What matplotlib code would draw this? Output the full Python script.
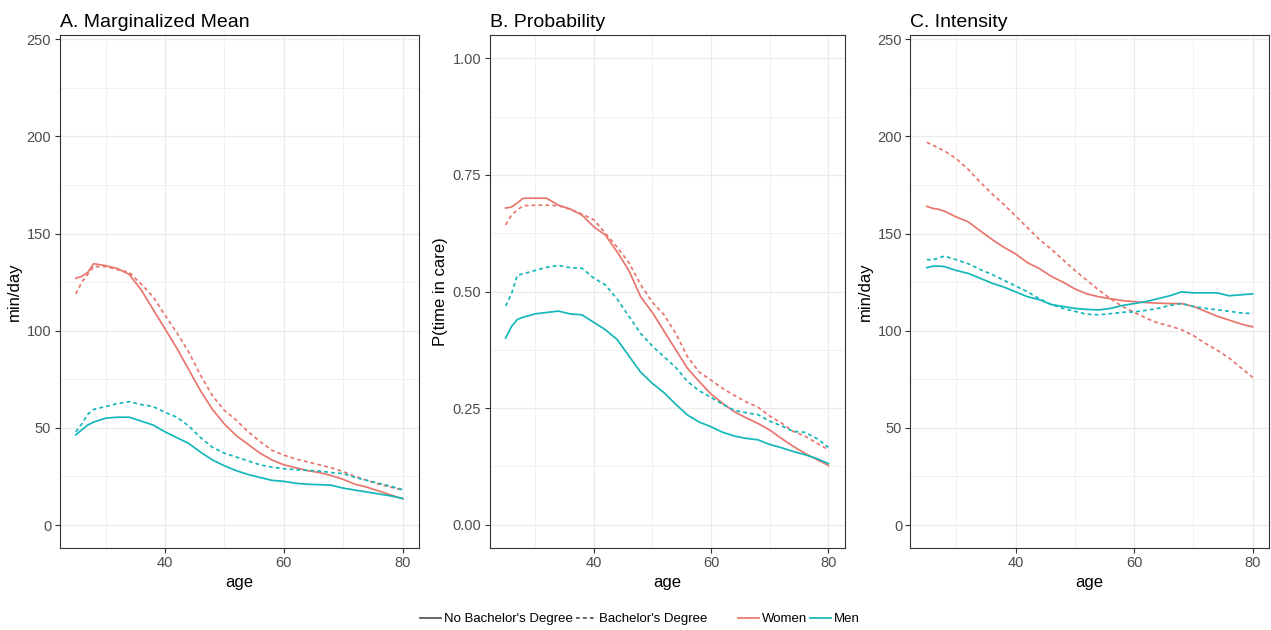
import numpy as np
import matplotlib
matplotlib.use("Agg")
import matplotlib.pyplot as plt
from matplotlib.lines import Line2D
from matplotlib.ticker import FixedLocator, FormatStrFormatter

# ---- data ----
age = [25, 26, 27, 28, 30, 32, 34, 36, 38, 40, 42, 44, 46, 48, 50,
       52, 54, 56, 58, 60, 62, 64, 66, 68, 70, 72, 74, 76, 78, 80]

# A. marginalized mean (min/day)
mean_women_nobach = [127, 128, 130, 134.5, 133.5, 132, 129, 121, 111, 101, 91, 80, 69, 59.5, 52,
                     46, 41.5, 37, 33.5, 31, 29.5, 28, 27, 25.5, 23.5, 21, 19.5, 17.5, 15.5, 13.5]
mean_women_bach = [119, 125, 129, 133, 133, 131.5, 130, 124, 117.5, 108, 99, 89, 77, 66.5, 59,
                   54, 48, 43, 38.5, 36, 34, 32.5, 31, 29.5, 27.5, 25, 23, 21, 19.5, 18]
mean_men_nobach = [46.5, 49, 51.5, 53, 55, 55.5, 55.5, 53.5, 51.5, 48, 45, 42, 37.5, 33.5, 30.5,
                   28, 26, 24.5, 23, 22.5, 21.5, 21, 20.8, 20.5, 19, 18, 17, 16, 15, 13.7]
mean_men_bach = [48, 52, 57, 59.5, 61, 62.5, 63.5, 62, 61, 58, 55.5, 51, 45, 40, 37,
                 35, 33, 31, 29.8, 29, 28.5, 28.2, 27.8, 27, 26.5, 24.5, 23, 21.5, 20, 18.2]

# B. probability of any time in care
prob_women_nobach = [0.679, 0.681, 0.690, 0.700, 0.700, 0.700, 0.685, 0.677, 0.664, 0.639, 0.621,
                     0.585, 0.545, 0.489, 0.455, 0.415, 0.375, 0.335, 0.307, 0.280, 0.260, 0.242,
                     0.229, 0.217, 0.203, 0.185, 0.168, 0.153, 0.140, 0.127]
prob_women_bach = [0.643, 0.664, 0.675, 0.684, 0.685, 0.685, 0.684, 0.676, 0.666, 0.654, 0.625,
                   0.595, 0.562, 0.515, 0.477, 0.450, 0.410, 0.360, 0.327, 0.310, 0.292, 0.277,
                   0.263, 0.252, 0.233, 0.218, 0.200, 0.190, 0.175, 0.161]
prob_men_nobach = [0.400, 0.425, 0.440, 0.445, 0.452, 0.455, 0.458, 0.452, 0.450, 0.434, 0.418,
                   0.397, 0.362, 0.327, 0.303, 0.283, 0.258, 0.235, 0.220, 0.210, 0.198, 0.190,
                   0.185, 0.182, 0.172, 0.165, 0.157, 0.150, 0.142, 0.131]
prob_men_bach = [0.469, 0.495, 0.535, 0.538, 0.545, 0.552, 0.556, 0.551, 0.550, 0.529, 0.514,
                 0.484, 0.447, 0.410, 0.383, 0.360, 0.337, 0.307, 0.287, 0.273, 0.258, 0.245,
                 0.240, 0.236, 0.222, 0.212, 0.200, 0.198, 0.185, 0.166]

# C. intensity (min/day among carers)
int_women_nobach = [164, 163, 162.5, 161.5, 158.5, 156, 151.5, 147, 143, 139.5, 135, 132, 128, 125, 121.5,
                    119, 117.5, 116.5, 115.5, 115, 114.5, 114.2, 114, 114, 112.5, 110, 107.5, 105.5, 103.5, 102]
int_women_bach = [197, 195.5, 194, 192.5, 188.5, 183, 176.5, 170.5, 165, 159, 153, 147, 142, 136.5, 131,
                  126, 121, 116.5, 112.5, 109.5, 106.5, 104, 102.5, 100.5, 97.5, 93.5, 90, 86, 81, 76]
int_men_nobach = [132.5, 133.2, 133.3, 133, 131, 129.5, 127, 124.5, 122.5, 120, 117.5, 116, 113.5, 112.5, 111.5,
                  111, 110.7, 111.5, 113, 114, 115, 116.5, 118, 120, 119.5, 119.5, 119.5, 118, 118.5, 119]
int_men_bach = [136.7, 136.4, 137.5, 138.4, 136.5, 134.5, 131.5, 129, 126, 123, 120, 116.5, 113.5, 111.5, 110,
                108.5, 108.2, 108.8, 109.5, 109.7, 110.5, 111.5, 113, 114, 112.5, 111.5, 110.8, 110, 109.2, 108.8]

# ---- style ----
WOMEN = "#E8766D"
MEN = "#14B7BA"
GRID = "#EBEBEB"
BORDER = "#333333"
LW = 1.25
DASH = (0, (2.2, 1.8))

plt.rcParams['font.family'] = ['Liberation Sans', 'DejaVu Sans']

fig = plt.figure(figsize=(12.71, 6.30), dpi=100)
W, H = 1271.0, 630.0
bottom = (H - 548) / H
height = (548 - 35) / H
ax_a = fig.add_axes([59.5 / W, bottom, 359.5 / W, height])
ax_b = fig.add_axes([489.5 / W, bottom, 355 / W, height])
ax_c = fig.add_axes([910.5 / W, bottom, 358.5 / W, height])


def style_axis(ax, ylim, ymajor, yminor, title, ylabel, fmt=None):
    ax.set_xlim(22.25, 82.75)
    ax.set_ylim(*ylim)
    ax.xaxis.set_major_locator(FixedLocator([40, 60, 80]))
    ax.xaxis.set_minor_locator(FixedLocator([30, 50, 70]))
    ax.yaxis.set_major_locator(FixedLocator(ymajor))
    ax.yaxis.set_minor_locator(FixedLocator(yminor))
    if fmt:
        ax.yaxis.set_major_formatter(FormatStrFormatter(fmt))
    ax.grid(which='major', color=GRID, lw=0.9, zorder=0)
    ax.grid(which='minor', color=GRID, lw=0.5, zorder=0)
    ax.set_axisbelow(True)
    for s in ax.spines.values():
        s.set_color(BORDER)
        s.set_linewidth(0.8)
    ax.tick_params(which='major', length=3.5, width=0.8, color=BORDER,
                   labelcolor='#4D4D4D', labelsize=10.5, pad=2.5)
    ax.tick_params(which='minor', length=0)
    ax.set_title(title, loc='left', fontsize=14, pad=6)
    ax.set_xlabel('age', fontsize=12, labelpad=3)
    if ylabel:
        ax.set_ylabel(ylabel, fontsize=12, labelpad=3)


def draw(ax, wn, wb, mn, mb):
    ax.plot(age, wn, color=WOMEN, lw=LW)
    ax.plot(age, wb, color=WOMEN, lw=LW, ls=DASH)
    ax.plot(age, mn, color=MEN, lw=LW)
    ax.plot(age, mb, color=MEN, lw=LW, ls=DASH)


draw(ax_a, mean_women_nobach, mean_women_bach, mean_men_nobach, mean_men_bach)
draw(ax_b, prob_women_nobach, prob_women_bach, prob_men_nobach, prob_men_bach)
draw(ax_c, int_women_nobach, int_women_bach, int_men_nobach, int_men_bach)

min_major = [0, 50, 100, 150, 200, 250]
min_minor = [25, 75, 125, 175, 225]
style_axis(ax_a, (-11.8, 252.2), min_major, min_minor, 'A. Marginalized Mean', 'min/day')
style_axis(ax_b, (-0.05, 1.05), [0, 0.25, 0.5, 0.75, 1.0], [0.125, 0.375, 0.625, 0.875],
           'B. Probability', 'P(time in care)', fmt='%.2f')
style_axis(ax_c, (-11.8, 252.2), min_major, min_minor, 'C. Intensity', 'min/day')

# ---- legends ----
lt_handles = [Line2D([], [], color='#555555', lw=LW),
              Line2D([], [], color='#555555', lw=LW, ls=DASH)]
fig.legend(lt_handles, ["No Bachelor's Degree", "Bachelor's Degree"],
           loc='center', bbox_to_anchor=(564 / W, 1 - 619 / H), ncol=2,
           frameon=False, fontsize=9.5, handlelength=1.6, handletextpad=0.2,
           columnspacing=0.2)
col_handles = [Line2D([], [], color=WOMEN, lw=LW), Line2D([], [], color=MEN, lw=LW)]
fig.legend(col_handles, ['Women', 'Men'], loc='center',
           bbox_to_anchor=(799 / W, 1 - 619 / H), ncol=2, frameon=False,
           fontsize=9.5, handlelength=1.6, handletextpad=0.2, columnspacing=0.2)

fig.savefig('out.png', dpi=100)
